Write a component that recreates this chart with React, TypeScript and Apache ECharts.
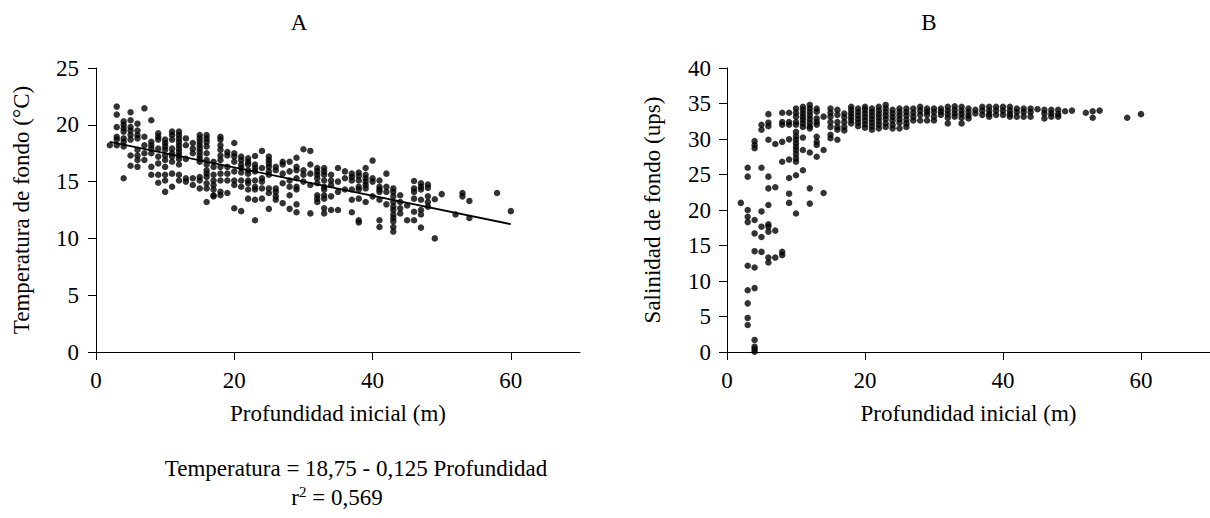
import React, { useEffect, useRef } from "react";
import * as echarts from "echarts";

// Panel A: bottom temperature (°C) by initial depth (m), one entry per depth column
const tempColumns: [number, number[]][] = [
  [2, [18.2]],
  [3, [21.6, 20.9, 19.8, 18.95, 18.7, 18.2]],
  [4, [20.3, 20.0, 19.7, 19.4, 18.8, 18.5, 18.1, 15.3]],
  [5, [21.1, 20.4, 19.8, 19.5, 19.1, 18.7, 17.3, 16.4]],
  [6, [20.1, 19.5, 19.1, 18.8, 17.8, 17.3, 16.9, 16.3]],
  [7, [21.45, 18.95, 18.2, 17.5, 16.9]],
  [8, [20.4, 18.5, 18.2, 17.9, 17.5, 16.3, 15.6]],
  [9, [19.25, 18.95, 18.7, 17.9, 17.2, 16.6, 15.6, 14.9]],
  [10, [18.7, 18.4, 18.1, 17.8, 17.3, 16.9, 16.3, 15.6, 15.1, 14.1]],
  [11, [19.4, 19.1, 18.7, 17.9, 17.5, 17.2, 16.75, 15.7, 14.55]],
  [12, [19.4, 19.1, 18.8, 18.5, 18.2, 17.9, 17.6, 17.3, 17.0, 16.5, 15.6, 15.1]],
  [13, [18.8, 18.2, 17.0, 15.3, 15.0]],
  [14, [18.4, 17.9, 17.5, 15.3, 14.7]],
  [15, [19.1, 18.8, 18.5, 18.2, 17.9, 17.6, 17.3, 17.0, 16.75, 15.4, 15.1, 14.4]],
  [16, [19.1, 18.8, 18.5, 18.1, 17.5, 16.9, 16.5, 16.0, 15.7, 15.4, 14.85, 14.4, 13.2]],
  [17, [16.75, 16.3, 15.6, 15.1, 14.7, 14.3, 13.8, 13.7]],
  [18, [18.95, 18.7, 18.2, 17.8, 17.3, 16.9, 16.3, 15.7, 15.1, 14.1, 13.8]],
  [19, [17.6, 17.3, 16.3, 15.7, 15.1, 14.0]],
  [20, [18.4, 17.5, 17.2, 16.75, 15.9, 15.1, 14.7, 12.65]],
  [21, [17.2, 16.9, 16.5, 16.2, 15.8, 15.1, 14.55, 12.4]],
  [22, [17.05, 16.75, 16.5, 16.0, 15.7, 15.1, 14.85, 14.3, 13.5]],
  [23, [17.25, 16.5, 16.2, 15.9, 15.1, 14.55, 14.3, 13.4, 11.6]],
  [24, [17.7, 16.2, 15.3, 15.0, 14.4, 13.5]],
  [25, [17.2, 16.9, 16.6, 16.3, 15.9, 15.6, 14.4, 14.0, 12.6]],
  [26, [16.3, 16.0, 14.4, 14.1, 13.7, 13.4]],
  [27, [16.75, 16.5, 15.7, 14.85, 13.1]],
  [28, [16.75, 15.9, 15.1, 14.55, 13.8, 12.6]],
  [29, [17.1, 16.3, 16.0, 15.3, 14.55, 14.3, 13.0, 12.3]],
  [30, [17.85, 16.0, 15.6, 15.0]],
  [31, [17.7, 16.5, 15.7, 14.7, 12.2]],
  [32, [16.2, 15.9, 15.6, 15.3, 14.85, 13.8, 13.5, 13.2]],
  [33, [16.2, 15.9, 15.6, 15.1, 14.55, 14.3, 13.8, 13.5, 12.65, 12.2]],
  [34, [15.6, 15.1, 14.7, 13.7, 12.5]],
  [35, [16.2, 15.0, 14.1, 12.5]],
  [36, [15.9, 15.3, 14.3]],
  [37, [15.7, 15.4, 15.1, 14.3, 13.4, 12.3]],
  [38, [15.8, 15.5, 15.1, 14.55, 14.3, 13.5, 11.6, 11.4]],
  [39, [16.2, 15.6, 15.3, 15.0, 14.7, 14.4, 13.2]],
  [40, [16.85, 15.3, 15.0, 13.7]],
  [41, [15.1, 14.55, 14.3, 14.1, 13.4, 11.6, 11.0]],
  [42, [15.7, 14.55, 14.1, 13.0]],
  [43, [14.4, 14.1, 13.7, 13.2, 12.8, 12.5, 12.1, 11.8, 11.5, 11.0, 10.6]],
  [44, [13.8, 13.2, 12.65, 12.2]],
  [45, [12.9, 11.6]],
  [46, [15.05, 14.4, 14.1, 13.5, 12.35, 11.6]],
  [47, [14.85, 14.55, 14.3, 13.4, 12.5, 12.1, 10.95]],
  [48, [14.75, 14.45, 13.7, 13.2, 12.8]],
  [49, [13.45, 10.0]],
  [50, [13.9]],
  [52, [12.1]],
  [53, [14.0, 13.7]],
  [54, [13.3, 11.8]],
  [58, [14.0]],
  [60, [12.4]],
];

// Panel B: bottom salinity (ups) by initial depth (m)
const salColumns: [number, number[]][] = [
  [2, [21.0]],
  [3, [25.95, 24.7, 20.0, 19.05, 18.3, 12.15, 8.7, 6.85, 4.8, 3.8]],
  [4, [29.7, 29.15, 28.7, 18.6, 16.7, 14.2, 11.9, 9.0, 1.7, 0.75, 0.4, 0.05]],
  [5, [32.0, 31.3, 25.95, 19.8, 17.65, 16.2, 14.1]],
  [6, [33.5, 32.3, 31.8, 29.9, 24.7, 23.05, 20.7, 18.0, 17.65, 16.95, 13.3, 12.6]],
  [7, [29.3, 23.2, 17.1, 13.3]],
  [8, [33.7, 32.4, 32.0, 29.6, 26.8, 14.1, 13.65]],
  [9, [33.7, 32.4, 32.0, 29.95, 27.1, 24.5, 22.3, 21.0]],
  [10, [34.3, 33.7, 33.15, 32.4, 32.0, 31.0, 30.4, 29.9, 29.4, 28.9, 28.45, 27.9, 27.3, 26.8, 24.9, 19.5]],
  [11, [34.55, 34.1, 33.6, 33.15, 32.7, 32.2, 31.7, 30.2, 28.45, 25.6]],
  [12, [34.8, 34.3, 33.8, 33.3, 32.8, 32.3, 31.8, 31.5, 28.1, 23.05, 20.9]],
  [13, [34.3, 33.85, 32.9, 32.4, 32.0, 30.3, 29.6, 29.15, 27.5]],
  [14, [33.15, 28.45, 22.4]],
  [15, [34.3, 33.7, 33.15, 32.4, 31.7, 30.6, 30.1]],
  [16, [34.1, 33.4, 32.4, 31.7, 31.3, 29.9]],
  [17, [33.6, 33.05, 32.4, 31.7, 31.2]],
  [18, [34.55, 34.1, 33.6, 33.15, 32.7, 32.2]],
  [19, [34.3, 33.8, 33.3, 32.8, 32.3, 31.8]],
  [20, [34.55, 34.1, 33.6, 33.1, 32.6, 32.1, 31.6]],
  [21, [34.3, 33.8, 33.3, 32.8, 32.3, 31.8, 31.3]],
  [22, [34.55, 34.0, 33.5, 33.0, 32.5, 32.0, 31.5]],
  [23, [34.8, 34.3, 33.8, 33.3, 32.8, 32.2, 31.7]],
  [24, [34.1, 33.6, 33.1, 32.6, 32.0, 31.5]],
  [25, [34.3, 33.8, 33.3, 32.8, 32.3, 31.5]],
  [26, [34.3, 33.8, 33.3, 32.7, 32.2, 31.7]],
  [27, [34.3, 33.7, 33.15, 32.6]],
  [28, [34.55, 34.0, 33.4, 32.6]],
  [29, [34.3, 33.85, 33.4, 32.6]],
  [30, [34.3, 33.8, 33.15, 32.6]],
  [31, [34.3, 33.85, 33.4]],
  [32, [34.55, 34.0, 33.5, 33.0, 32.2]],
  [33, [34.6, 34.1, 33.6, 33.15]],
  [34, [34.55, 34.0, 33.5, 33.0, 32.2]],
  [35, [34.3, 33.8, 33.3, 32.9]],
  [36, [34.1, 33.6]],
  [37, [34.55, 34.0, 33.4]],
  [38, [34.55, 34.0, 33.5, 33.15]],
  [39, [34.55, 34.0, 33.4]],
  [40, [34.55, 34.0, 33.4]],
  [41, [34.55, 34.0, 33.5, 33.15]],
  [42, [34.3, 33.8, 33.15]],
  [43, [34.3, 33.8, 33.15]],
  [44, [34.3, 33.8, 33.15]],
  [45, [34.2]],
  [46, [34.1, 33.6, 32.9]],
  [47, [34.1, 33.6, 33.15]],
  [48, [34.1, 33.5, 33.15]],
  [49, [33.9]],
  [50, [34.0]],
  [52, [33.7]],
  [53, [33.9, 33.0]],
  [54, [34.0]],
  [58, [33.0]],
  [60, [33.5]],
];

// Regression: Temperatura = 18,75 - 0,125 Profundidad, fitted over depths 2..60
const regIntercept = 18.75;
const regSlope = -0.125;
const regDepthRange = [2, 60];

const xTickValues = [0, 20, 40, 60];
const tempTicks = { min: 0, max: 25, interval: 5 };
const salTicks = { min: 0, max: 40, interval: 5 };

const FONT = "'Liberation Serif', 'Times New Roman', serif";
const FS = 23;

const flatten = (cols: [number, number[]][]) =>
  cols.flatMap(([d, vals]) => vals.map((v) => [d, v]));

export default function App() {
  const ref = useRef<HTMLDivElement>(null);

  useEffect(() => {
    if (!ref.current) return;
    const chart = echarts.init(ref.current, undefined, { renderer: "svg" });

    const axisCommon = {
      axisLine: { show: true, onZero: false, lineStyle: { color: "#000", width: 1 } },
      axisTick: { show: true, inside: false, length: 8, lineStyle: { color: "#000" } },
      splitLine: { show: false },
    };
    const labelStyle = { fontFamily: FONT, fontSize: FS, color: "#000" };

    const xAxis = (gridIndex: number) => ({
      type: "value",
      gridIndex,
      min: 0,
      max: 70,
      interval: 10,
      ...axisCommon,
      axisTick: { ...axisCommon.axisTick, customValues: xTickValues },
      axisLabel: { ...labelStyle, margin: 17, customValues: xTickValues },
      name: "Profundidad inicial (m)",
      nameLocation: "middle",
      nameGap: 50,
      nameTextStyle: { ...labelStyle },
    });

    const regLine = regDepthRange.map((d) => [d, regIntercept + regSlope * d]);

    chart.setOption({
      animation: false,
      grid: [
        { left: 96, top: 68, width: 484, height: 284 },
        { left: 727, top: 68, width: 483, height: 284 },
      ],
      xAxis: [xAxis(0), xAxis(1)],
      yAxis: [
        {
          type: "value",
          gridIndex: 0,
          ...tempTicks,
          ...axisCommon,
          axisLabel: { ...labelStyle, margin: 17 },
          name: "Temperatura de fondo (°C)",
          nameLocation: "middle",
          nameGap: 63,
          nameTextStyle: { ...labelStyle, padding: [0, 0, 0, 0] },
        },
        {
          type: "value",
          gridIndex: 1,
          ...salTicks,
          ...axisCommon,
          axisLabel: { ...labelStyle, margin: 16 },
          name: "Salinidad de fondo (ups)",
          nameLocation: "middle",
          nameGap: 63,
          nameTextStyle: { ...labelStyle },
        },
      ],
      series: [
        {
          type: "scatter",
          xAxisIndex: 0,
          yAxisIndex: 0,
          data: flatten(tempColumns),
          symbolSize: 6.5,
          itemStyle: { color: "#000" },
        },
        {
          type: "line",
          xAxisIndex: 0,
          yAxisIndex: 0,
          data: regLine,
          showSymbol: false,
          symbol: "none",
          lineStyle: { color: "#000", width: 1.8 },
        },
        {
          type: "scatter",
          xAxisIndex: 1,
          yAxisIndex: 1,
          data: flatten(salColumns),
          symbolSize: 6.5,
          itemStyle: { color: "#000" },
        },
      ],
      graphic: [
        {
          type: "text",
          x: 299,
          y: 22,
          style: { text: "A", font: `${FS}px ${FONT}`, fill: "#000", align: "center", verticalAlign: "middle" },
        },
        {
          type: "text",
          x: 929,
          y: 22,
          style: { text: "B", font: `${FS}px ${FONT}`, fill: "#000", align: "center", verticalAlign: "middle" },
        },
        {
          type: "text",
          x: 356,
          y: 468,
          style: {
            text: "Temperatura = 18,75 - 0,125 Profundidad",
            font: `${FS}px ${FONT}`,
            fill: "#000",
            align: "center",
            verticalAlign: "middle",
          },
        },
        {
          type: "text",
          x: 337,
          y: 497,
          style: {
            text: "r{sup|2} = 0,569",
            font: `${FS}px ${FONT}`,
            fill: "#000",
            align: "center",
            verticalAlign: "middle",
            rich: {
              sup: { fontFamily: FONT, fontSize: 15, fill: "#000", verticalAlign: "top", padding: [0, 0, 10, 0] },
            },
          },
        },
      ],
    });

    return () => chart.dispose();
  }, []);

  return (
    <div
      ref={ref}
      style={{ position: "absolute", left: 0, top: 0, width: 1210, height: 518 }}
    />
  );
}
